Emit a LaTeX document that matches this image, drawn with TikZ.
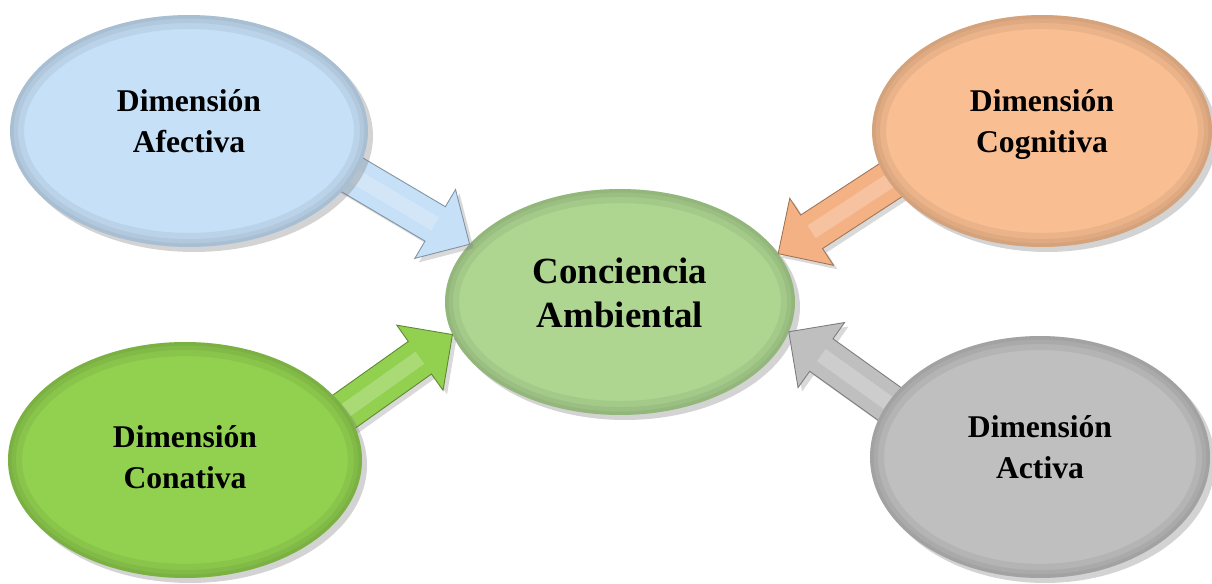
\documentclass[tikz,border=0pt]{standalone}
\usepackage{fontspec}
\setmainfont{Liberation Serif}
\usetikzlibrary{calc,shapes.geometric,shadows}

\definecolor{afeblue}{RGB}{198,224,247}
\definecolor{cogpeach}{RGB}{249,190,146}
\definecolor{cogarrow}{RGB}{244,178,132}
\definecolor{congreen}{RGB}{146,208,80}
\definecolor{actgray}{RGB}{191,191,191}
\definecolor{cenmint}{RGB}{174,214,145}

% block arrow: #1 tail, #2 tip, #3 colour
\newcommand{\blockarr}[3]{%
  \coordinate (ab) at ($(#2)!0.8cm!(#1)$);
  \draw[arrowbody=#3] ($(#1)!0.4cm!90:(#2)$) -- ($(ab)!0.4cm!90:(#2)$)
    -- ($(ab)!0.8cm!90:(#2)$) -- (#2) -- ($(ab)!0.8cm!-90:(#2)$)
    -- ($(ab)!0.4cm!-90:(#2)$) -- ($(#1)!0.4cm!-90:(#2)$) -- cycle;
  \draw[white, opacity=0.22, line width=0.3cm] (#1) -- (ab);
}

\begin{document}
\begin{tikzpicture}[x=0.02cm, y=0.02cm,
  rim/.style={path picture={
    \path (path picture bounding box.south west) coordinate (pp-sw)
          (path picture bounding box.north east) coordinate (pp-ne);
    \foreach \w in {16,9,4}
      \draw[#1, opacity=0.12, line width=\w pt] let \p1=($(pp-ne)-(pp-sw)$) in
        (path picture bounding box.center) ellipse [x radius=0.5*\x1, y radius=0.5*\y1];
  }},
  dim/.style={ellipse, fill=#1, rim=#1!55!black, outer sep=0pt, inner sep=0pt, align=center,
    font=\bfseries\fontsize{18}{23}\selectfont, text depth=0.4cm,
    drop shadow={opacity=0.35, shadow xshift=0.1cm, shadow yshift=-0.1cm}},
  arrowbody/.style={draw=#1!65!black, fill=#1, line width=0.5pt,
    drop shadow={opacity=0.3, shadow xshift=0.08cm, shadow yshift=-0.08cm}}]
\useasboundingbox (0,0) rectangle (1212,-584);
\node[dim=cenmint, minimum width=7cm, minimum height=4.52cm,
  font=\bfseries\fontsize{21}{25}\selectfont, text depth=0.36cm] (cen) at (620,-302) {Conciencia\\Ambiental};
\coordinate (afe-tail) at (300,-144);
\coordinate (cog-tail) at (940,-148);
\coordinate (con-tail) at (290,-450);
\coordinate (act-tail) at (940,-440);
\blockarr{afe-tail}{cen.159}{afeblue}
\blockarr{cog-tail}{cen.17}{cogarrow}
\blockarr{con-tail}{cen.191}{congreen}
\blockarr{act-tail}{cen.-10}{actgray}
\node[dim=afeblue, minimum width=7.16cm, minimum height=4.64cm] (afe) at (189,-131) {Dimensión\\Afectiva};
\node[dim=cogpeach, minimum width=6.8cm, minimum height=4.64cm] (cog) at (1042,-131) {Dimensión\\Cognitiva};
\node[dim=congreen, minimum width=7.08cm, minimum height=4.72cm, text depth=0.12cm] (con) at (185,-460) {Dimensión\\Conativa};
\node[dim=actgray, minimum width=6.8cm, minimum height=4.84cm] (act) at (1040,-457) {Dimensión\\Activa};
\end{tikzpicture}
\end{document}
